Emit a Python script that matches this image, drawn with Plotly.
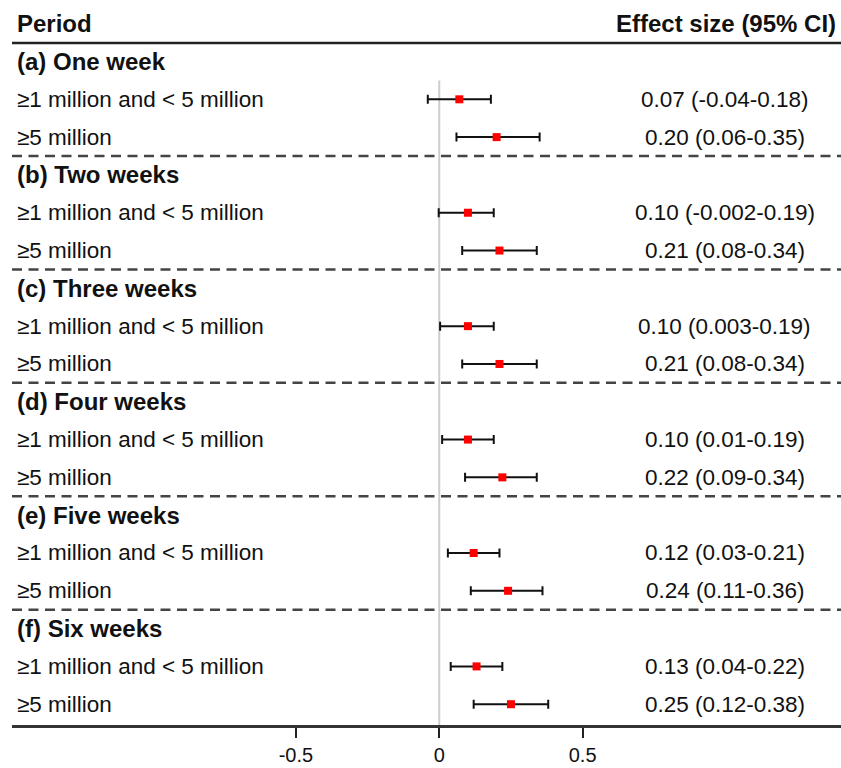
import plotly.graph_objects as go

# ---- data ----
periods = ["(a) One week", "(b) Two weeks", "(c) Three weeks",
           "(d) Four weeks", "(e) Five weeks", "(f) Six weeks"]
subgroups = ["\u22651 million and < 5 million", "\u22655 million"]
estimate = [0.07, 0.20, 0.10, 0.21, 0.10, 0.21, 0.10, 0.22, 0.12, 0.24, 0.13, 0.25]
ci_low = [-0.04, 0.06, -0.002, 0.08, 0.003, 0.08, 0.01, 0.09, 0.03, 0.11, 0.04, 0.12]
ci_high = [0.18, 0.35, 0.19, 0.34, 0.19, 0.34, 0.19, 0.34, 0.21, 0.36, 0.22, 0.38]
tick_vals = [-0.5, 0, 0.5]
tick_text = ["-0.5", "0", "0.5"]


def fmt(v):
    return f"{v:.2f}" if round(v, 2) == v else f"{v:g}"


# row positions: each period takes 3 rows (header + 2 subgroups)
header_rows = [3 * g for g in range(len(periods))]
data_rows = []
row_labels = []
for g in range(len(periods)):
    for s, lab in enumerate(subgroups):
        data_rows.append(3 * g + 1 + s)
        row_labels.append(lab)

FONT = "Liberation Sans, Arial, sans-serif"
TXT = "#111111"

fig = go.Figure()
fig.add_trace(go.Scatter(
    x=estimate, y=data_rows, mode="markers",
    marker=dict(symbol="square", size=8, color="#ff0000"),
    error_x=dict(type="data", symmetric=False,
                 array=[h - e for h, e in zip(ci_high, estimate)],
                 arrayminus=[e - l for e, l in zip(estimate, ci_low)],
                 color="#111111", thickness=2, width=4.5),
    showlegend=False, hoverinfo="skip",
))

ann = []
# column headers
ann.append(dict(x=0, y=-1, xref="paper", yref="y", text="<b>Period</b>",
                xanchor="left", yanchor="middle", showarrow=False, xshift=3,
                font=dict(size=24, color=TXT, family=FONT)))
ann.append(dict(x=0.9964, y=-1, xref="paper", yref="y", text="<b>Effect size (95% CI)</b>",
                xanchor="right", yanchor="middle", showarrow=False,
                font=dict(size=24, color=TXT, family=FONT)))
for p, r in zip(periods, header_rows):
    ann.append(dict(x=0, y=r, xref="paper", yref="y", text=f"<b>{p}</b>",
                    xanchor="left", yanchor="middle", showarrow=False, xshift=3,
                    font=dict(size=24, color=TXT, family=FONT)))
for lab, r, e, l, h in zip(row_labels, data_rows, estimate, ci_low, ci_high):
    ann.append(dict(x=0, y=r, xref="paper", yref="y", text=lab,
                    xanchor="left", yanchor="middle", showarrow=False, xshift=3,
                    font=dict(size=22.5, color=TXT, family=FONT)))
    ann.append(dict(x=0.860, y=r, xref="paper", yref="y",
                    text=f"{fmt(e)} ({fmt(l)}-{fmt(h)})",
                    xanchor="center", yanchor="middle", showarrow=False,
                    font=dict(size=22.5, color=TXT, family=FONT)))

shapes = []
# zero reference line
shapes.append(dict(type="line", xref="x", yref="y", x0=0, x1=0, y0=0.5, y1=17.55,
                   line=dict(color="#cccccc", width=2), layer="below"))
# top rule
shapes.append(dict(type="line", xref="paper", yref="y", x0=0, x1=1, y0=-0.49, y1=-0.49,
                   line=dict(color="#222222", width=2.5)))
# dashed separators
for g in range(1, len(periods)):
    yy = 3 * g - 0.5
    shapes.append(dict(type="line", xref="paper", yref="y", x0=0, x1=1, y0=yy, y1=yy,
                       line=dict(color="#444444", width=2.5, dash="10px,6.5px")))

fig.update_layout(
    width=841, height=768,
    margin=dict(l=12, r=0, t=0, b=43),
    paper_bgcolor="white", plot_bgcolor="white",
    annotations=ann, shapes=shapes,
    xaxis=dict(range=[-1.490, 1.401], showgrid=False, zeroline=False,
               showline=True, linecolor="#333333", linewidth=2.5,
               ticks="outside", ticklen=10, tickwidth=2, tickcolor="#222222",
               tickvals=tick_vals, ticktext=tick_text,
               tickfont=dict(size=20, color=TXT, family=FONT)),
    yaxis=dict(range=[17.55, -1.627], visible=False, showgrid=False, zeroline=False),
)

fig.write_html("out.html", config={"displayModeBar": False},
               post_script="document.body.style.margin='0';document.body.style.overflow='hidden';")
